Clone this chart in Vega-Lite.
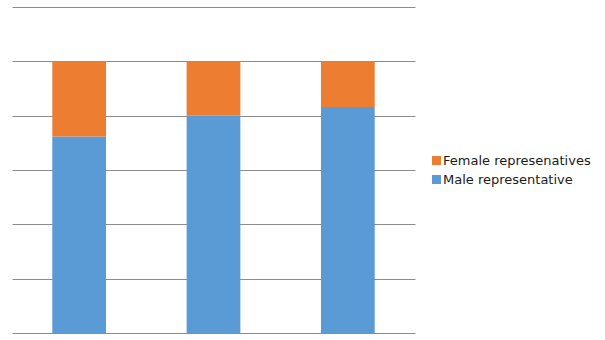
{
  "$schema": "https://vega.github.io/schema/vega-lite/v6.json",
  "width": 403,
  "height": 326,
  "autosize": "none",
  "padding": {"left": 12, "top": 7, "right": 190, "bottom": 7},
  "background": "white",
  "data": {"values": [
    {"group": "1", "series": "Male representative", "value": 72.3},
    {"group": "1", "series": "Female represenatives", "value": 27.7},
    {"group": "2", "series": "Male representative", "value": 80},
    {"group": "2", "series": "Female represenatives", "value": 20},
    {"group": "3", "series": "Male representative", "value": 83.2},
    {"group": "3", "series": "Female represenatives", "value": 16.8}
  ]},
  "mark": {"type": "bar"},
  "encoding": {
    "x": {"field": "group", "type": "nominal", "scale": {"paddingInner": 0.6, "paddingOuter": 0.3}, "axis": null},
    "y": {"field": "value", "type": "quantitative", "stack": "zero",
      "scale": {"domain": [0, 120], "nice": false},
      "axis": {"values": [0, 20, 40, 60, 80, 100, 120], "labels": false, "ticks": false, "domain": false, "title": null, "grid": true, "gridColor": "#8c8c8c", "gridWidth": 1, "gridOpacity": 1}},
    "color": {"field": "series", "type": "nominal",
      "scale": {"domain": ["Female represenatives", "Male representative"], "range": ["#ED7D31", "#5B9BD5"]},
      "legend": {"title": null, "orient": "none", "legendX": 418, "legendY": 147, "symbolType": "square", "symbolSize": 81, "symbolStrokeWidth": 0, "symbolOpacity": 1, "labelFont": "DejaVu Sans", "labelFontSize": 13, "labelColor": "#1a1a1a", "rowPadding": 5, "labelOffset": 0}},
    "order": {"field": "series", "sort": "descending"}
  },
  "config": {"view": {"stroke": null}}
}
